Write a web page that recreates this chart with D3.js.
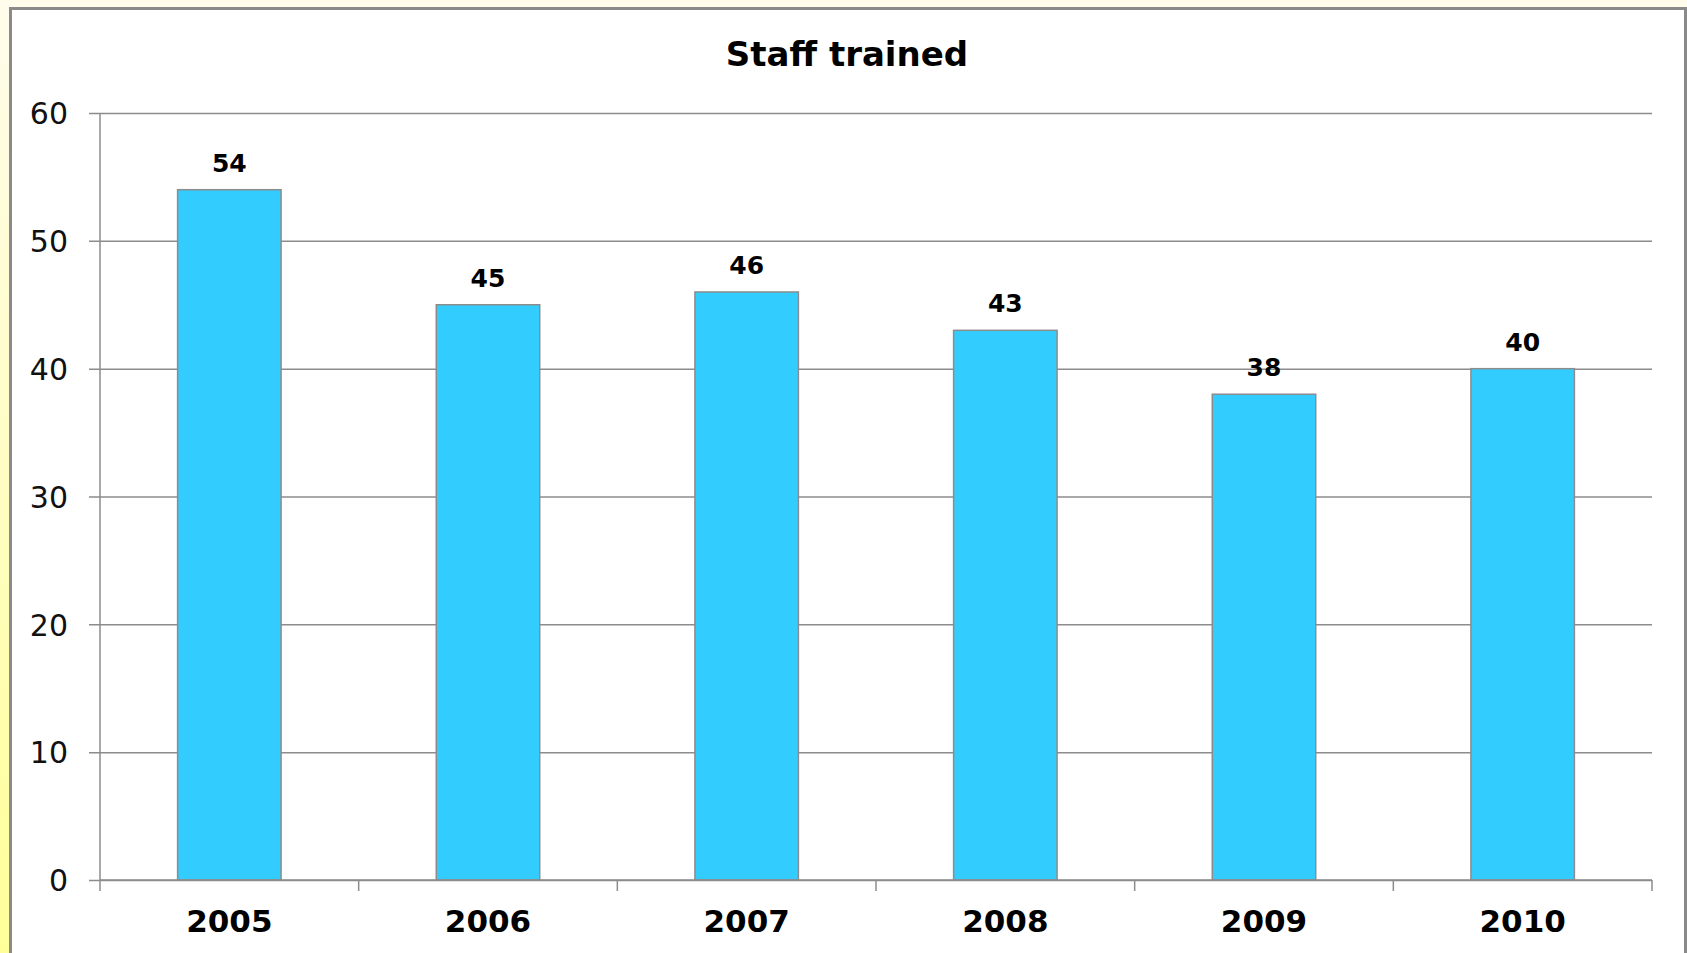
<!DOCTYPE html>
<html>
<head>
<meta charset="utf-8">
<script src="https://cdn.jsdelivr.net/npm/d3@7"></script>
<style>
  body { margin: 0; overflow: hidden; }
  svg { display: block; }
</style>
</head>
<body>
<svg id="chart"></svg>
<script>
// data
const years = ["2005", "2006", "2007", "2008", "2009", "2010"];
const staffTrained = [54, 45, 46, 43, 38, 40];
const yTicks = [0, 10, 20, 30, 40, 50, 60];
const chartTitle = "Staff trained";

const width = 1687, height = 953;
const margin = { top: 113, bottom: 73, right: 35, left: 100 };
const innerW = width - margin.left - margin.right;
const innerH = height - margin.top - margin.bottom;

const svg = d3.select("#chart")
    .attr("width", width)
    .attr("height", height);

// slide-ish yellow backdrop behind the chart box
const grad = svg.append("defs").append("linearGradient")
    .attr("id", "bg").attr("x1", 0).attr("y1", 0).attr("x2", 0).attr("y2", 1);
grad.append("stop").attr("offset", "0%").attr("stop-color", "#fffcec");
grad.append("stop").attr("offset", "100%").attr("stop-color", "#ffff99");

svg.append("rect")
    .attr("width", width).attr("height", height)
    .attr("fill", "url(#bg)");

svg.append("rect")
    .attr("x", 10.5).attr("y", 8.5)
    .attr("width", 1675).attr("height", 980)
    .attr("fill", "#ffffff")
    .attr("stroke", "#8a8a8a")
    .attr("stroke-width", 3);

svg.append("text")
    .attr("x", 847)
    .attr("y", 66)
    .attr("text-anchor", "middle")
    .style("font-family", "'DejaVu Sans', Verdana, sans-serif")
    .style("font-weight", "bold")
    .style("font-size", "34px")
    .attr("fill", "#000")
    .text(chartTitle);

const chart = svg.append("g")
    .attr("transform", `translate(${margin.left},${margin.top})`);

const xScale = d3.scaleBand()
    .domain(years)
    .range([0, innerW])
    .paddingInner(0.6)
    .paddingOuter(0.3);

const yScale = d3.scaleLinear()
    .domain([0, 60])
    .range([innerH, 0]);

// gridlines + y axis
const yAxis = d3.axisLeft(yScale)
    .tickValues(yTicks)
    .tickSize(-innerW)
    .tickPadding(0)
    .tickFormat(d3.format("d"));

const yAxisG = chart.append("g")
    .attr("class", "axis y-axis")
    .call(yAxis);

yAxisG.select(".domain").remove();
yAxisG.selectAll(".tick line")
    .attr("x1", -11)
    .attr("stroke", "#8c8c8c")
    .attr("stroke-width", 1.5);
yAxisG.selectAll(".tick text")
    .attr("x", -32)
    .attr("dy", "0.36em")
    .style("font-family", "'DejaVu Sans', Verdana, sans-serif")
    .style("font-size", "30px")
    .attr("fill", "#111");

// vertical axis line
chart.append("line")
    .attr("x1", 0).attr("x2", 0)
    .attr("y1", 0).attr("y2", innerH + 11)
    .attr("stroke", "#8c8c8c")
    .attr("stroke-width", 1.5);

// bars
chart.selectAll(".bar")
    .data(staffTrained)
    .join("rect")
    .attr("class", "bar")
    .attr("x", (d, i) => xScale(years[i]))
    .attr("y", d => yScale(d))
    .attr("width", xScale.bandwidth())
    .attr("height", d => innerH - yScale(d))
    .attr("fill", "#33ccff")
    .attr("stroke", "#8c8c8c")
    .attr("stroke-width", 1.5);

// value labels
chart.selectAll(".val")
    .data(staffTrained)
    .join("text")
    .attr("class", "val")
    .attr("x", (d, i) => xScale(years[i]) + xScale.bandwidth() / 2)
    .attr("y", d => yScale(d) - 18)
    .attr("text-anchor", "middle")
    .style("font-family", "'DejaVu Sans', Verdana, sans-serif")
    .style("font-weight", "bold")
    .style("font-size", "25px")
    .attr("fill", "#000")
    .text(d => d);

// x axis with category boundary ticks
const xAxisG = chart.append("g")
    .attr("class", "axis x-axis")
    .attr("transform", `translate(0,${innerH})`);

xAxisG.append("line")
    .attr("x1", 0).attr("x2", innerW)
    .attr("stroke", "#8c8c8c")
    .attr("stroke-width", 1.5);

const step = xScale.step();
xAxisG.selectAll(".xtick")
    .data(d3.range(1, years.length + 1))
    .join("line")
    .attr("class", "xtick")
    .attr("x1", d => d * step).attr("x2", d => d * step)
    .attr("y1", 0).attr("y2", 11)
    .attr("stroke", "#8c8c8c")
    .attr("stroke-width", 1.5);

xAxisG.selectAll(".xlab")
    .data(years)
    .join("text")
    .attr("class", "xlab")
    .attr("x", d => xScale(d) + xScale.bandwidth() / 2)
    .attr("y", 52)
    .attr("text-anchor", "middle")
    .style("font-family", "'DejaVu Sans', Verdana, sans-serif")
    .style("font-weight", "bold")
    .style("font-size", "31px")
    .attr("fill", "#000")
    .text(d => d);
</script>
</body>
</html>
